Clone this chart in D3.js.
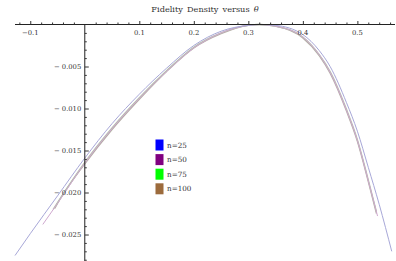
<!DOCTYPE html>
<html><head><meta charset="utf-8">
<script src="https://cdn.jsdelivr.net/npm/d3@7"></script>
<style>body{margin:0;background:#fff}svg{display:block}</style>
</head><body>
<svg id="c" width="396" height="261"></svg>
<script>
const title = "Fidelity Density versus ";
const seriesNames = ["n=25", "n=50", "n=75", "n=100"];
const legendColors = ["#0000ff", "#800080", "#00ff00", "#9c6b3c"];
const lineColors = ["#a8a8d8", "#cfa9cf", "#b4bfae", "#b5aea6"];

const theta25 = [-0.128,-0.1,-0.05,0,0.05,0.1,0.15,0.2,0.25,0.3,0.32,0.35,0.4,0.43,0.45,0.48,0.5,0.52,0.54,0.563];
const vals25  = [-0.0275,-0.0249,-0.0204,-0.0159,-0.0118,-0.0083,-0.0052,-0.0025,-0.0008,-0.0001,0,-0.0001,-0.0012,-0.0031,-0.0050,-0.0093,-0.0127,-0.0170,-0.0214,-0.0270];
const theta50 = [-0.077,-0.05,0,0.05,0.1,0.15,0.2,0.25,0.3,0.32,0.35,0.4,0.43,0.45,0.48,0.5,0.52,0.537];
const vals50  = [-0.0238,-0.0213,-0.0165,-0.0124,-0.0088,-0.0056,-0.0028,-0.0010,-0.0001,0,-0.0002,-0.0015,-0.0036,-0.0057,-0.0102,-0.0138,-0.0186,-0.0228];
const theta75 = [-0.058,-0.05,0,0.05,0.1,0.15,0.2,0.25,0.3,0.32,0.35,0.4,0.43,0.45,0.48,0.5,0.52,0.535];
const vals75  = [-0.0220,-0.0212,-0.0164,-0.0123,-0.0087,-0.0055,-0.0027,-0.0010,-0.0001,0,-0.0002,-0.0015,-0.0036,-0.0056,-0.0101,-0.0137,-0.0185,-0.0223];
const theta100 = [-0.055,-0.05,0,0.05,0.1,0.15,0.2,0.25,0.3,0.32,0.35,0.4,0.43,0.45,0.48,0.5,0.52,0.535];
const vals100  = [-0.0219,-0.0213,-0.0166,-0.0125,-0.0089,-0.0056,-0.0028,-0.0011,-0.0001,0,-0.0002,-0.0016,-0.0037,-0.0058,-0.0103,-0.0139,-0.0187,-0.0225];

const xTicks = [-0.1, 0.1, 0.2, 0.3, 0.4, 0.5];
const yTicks = [-0.005, -0.010, -0.015, -0.020, -0.025];

const svg = d3.select("#c");
const x = d3.scaleLinear().domain([-0.128, 0.569]).range([15, 395]);
const y = d3.scaleLinear().domain([0, -0.0282]).range([24.5, 261.4]);
const serif = "'DejaVu Serif','Liberation Serif',serif";

// curves
const thetas = [theta25, theta50, theta75, theta100];
const vals = [vals25, vals50, vals75, vals100];
const line = d3.line().x(d => x(d[0])).y(d => y(d[1])).curve(d3.curveMonotoneX);
[3,2,1,0].forEach(i => {
  const pts = thetas[i].map((t, k) => [t, vals[i][k]]);
  svg.append("path").attr("d", line(pts)).attr("fill", "none")
    .attr("stroke", lineColors[i]).attr("stroke-width", i >= 2 ? 1.3 : 1);
});

// x axis
const xAxis = d3.axisTop(x).tickValues(d3.range(-0.12, 0.5601, 0.02).map(v => +v.toFixed(2)))
  .tickSize(2).tickFormat("");
const gx = svg.append("g").attr("transform", `translate(0,${y(0)})`).call(xAxis);
gx.select(".domain").attr("d", `M15,0H395`).attr("stroke", "#222");
gx.selectAll(".tick line").attr("stroke", "#333").attr("y2", (d) => Math.abs(Math.round(d*10) - d*10) < 1e-6 ? -3.5 : -2);
gx.selectAll(".tick").filter(d => Math.abs(d) < 1e-9).remove();
svg.append("g").selectAll("text").data(xTicks).join("text")
  .attr("x", d => x(d)).attr("y", y(0) + 10).attr("text-anchor", "middle")
  .attr("font-family", serif).attr("font-size", 6.8).attr("fill", "#333")
  .text(d => d < 0 ? "\u2212" + Math.abs(d).toFixed(1) : d.toFixed(1));

// y axis
const yAxis = d3.axisRight(y).tickValues(d3.range(-0.001, -0.0281, -0.001).map(v => +v.toFixed(3)))
  .tickSize(2).tickFormat("");
const gy = svg.append("g").attr("transform", `translate(${x(0)},0)`).call(yAxis);
gy.select(".domain").attr("d", `M0,${y(0)}V261`).attr("stroke", "#222");
gy.selectAll(".tick line").attr("stroke", "#333")
  .attr("x2", d => Math.abs(Math.round(d*200) - d*200) < 1e-6 ? 4 : 2);
svg.append("g").selectAll("text").data(yTicks).join("text")
  .attr("x", x(0) - 3.5).attr("y", d => y(d) + 2.5).attr("text-anchor", "end")
  .attr("font-family", serif).attr("font-size", 6.8).attr("fill", "#333")
  .text(d => "\u2212 " + Math.abs(d).toFixed(3));

// title
const t = svg.append("text").attr("x", 205).attr("y", 12).attr("text-anchor", "middle")
  .attr("font-family", serif).attr("font-size", 8.2).attr("fill", "#333").attr("word-spacing", 1.5);
t.append("tspan").text(title);
t.append("tspan").attr("font-style", "italic").text("\u03b8");

// legend
const lg = svg.append("g");
seriesNames.forEach((n, i) => {
  lg.append("rect").attr("x", 155.5).attr("y", 139.5 + i * 14.6).attr("width", 8).attr("height", 11)
    .attr("fill", legendColors[i]);
  lg.append("text").attr("x", 167).attr("y", 147.5 + i * 14.6)
    .attr("font-family", serif).attr("font-size", 7.2).attr("fill", "#333").text(n);
});
</script>
</body></html>
